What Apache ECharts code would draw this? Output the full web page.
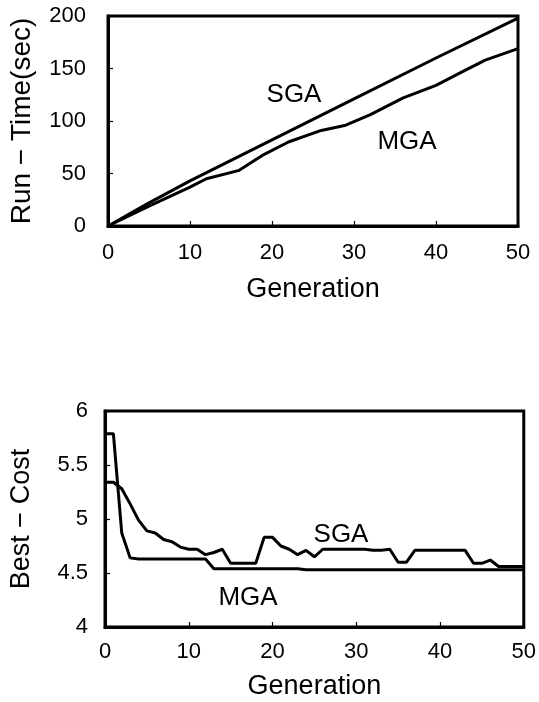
<!DOCTYPE html>
<html>
<head>
<meta charset="utf-8">
<script src="https://cdn.jsdelivr.net/npm/echarts@6/dist/echarts.min.js"></script>
<style>
  html, body { margin: 0; padding: 0; background: #fff; }
  #chart { width: 539px; height: 702px; }
</style>
</head>
<body>
<div id="chart"></div>
<script>
// Run-time vs generation (top panel)
const runGen = [0, 5, 10, 20, 30, 40, 50];
const runSGA = [0, 22, 43, 82, 121, 160, 198];
const runMgaGen = [0, 5, 10, 12, 16, 19, 22, 26, 29, 32, 36, 40, 43, 46, 50];
const runMGA = [0, 19, 37, 45, 53, 68, 80, 91, 96, 106, 122, 134, 146, 158, 169];

// Best cost vs generation (bottom panel), one value per generation 0..50
const costSGA = [
  5.34, 5.34, 5.28, 5.14, 4.99, 4.89, 4.87, 4.81, 4.79, 4.74,
  4.72, 4.72, 4.67, 4.69, 4.72, 4.59, 4.59, 4.59, 4.59, 4.83,
  4.83, 4.75, 4.72, 4.67, 4.71, 4.65, 4.72, 4.72, 4.72, 4.72,
  4.72, 4.72, 4.71, 4.71, 4.72, 4.60, 4.60, 4.71, 4.71, 4.71,
  4.71, 4.71, 4.71, 4.71, 4.59, 4.59, 4.62, 4.56, 4.56, 4.56, 4.56
];
const costMGA = [
  5.79, 5.79, 4.87, 4.64, 4.63, 4.63, 4.63, 4.63, 4.63, 4.63,
  4.63, 4.63, 4.63, 4.54, 4.54, 4.54, 4.54, 4.54, 4.54, 4.54,
  4.54, 4.54, 4.54, 4.54, 4.53, 4.53, 4.53, 4.53, 4.53, 4.53,
  4.53, 4.53, 4.53, 4.53, 4.53, 4.53, 4.53, 4.53, 4.53, 4.53,
  4.53, 4.53, 4.53, 4.53, 4.53, 4.53, 4.53, 4.53, 4.53, 4.53, 4.53
];

const FONT = "'Liberation Sans', Arial, sans-serif";
const INK = '#000';

const pairs = (xs, ys) => xs.map((x, i) => [x, ys[i]]);
const costPairs = (ys) => ys.map((y, i) => [i, y]);

const chart = echarts.init(document.getElementById('chart'), null, { renderer: 'canvas' });

const axisBase = {
  axisLine: { show: true, lineStyle: { color: INK, width: 3 } },
  axisTick: { show: true, inside: true, length: 5, lineStyle: { color: INK, width: 1.2 } },
  splitLine: { show: false },
  axisLabel: { color: INK, fontSize: 22, fontFamily: FONT },
  nameLocation: 'middle',
  nameTextStyle: { color: INK, fontSize: 27, fontFamily: FONT },
};

const lineBase = {
  type: 'line',
  symbol: 'none',
  smooth: false,
  lineStyle: { color: INK, width: 3 },
  z: 3,
};

chart.setOption({
  backgroundColor: '#fff',
  animation: false,
  grid: [
    { left: 105, right: 21, top: 16, height: 210, show: true, borderColor: INK, borderWidth: 3 },
    { left: 103, right: 13, top: 411, height: 216, show: true, borderColor: INK, borderWidth: 3 },
  ],
  xAxis: [
    Object.assign({}, axisBase, {
      gridIndex: 0, type: 'value', min: 0, max: 50, interval: 10,
      name: 'Generation', nameGap: 50,
      axisLabel: Object.assign({}, axisBase.axisLabel, { margin: 16 }),
    }),
    Object.assign({}, axisBase, {
      gridIndex: 1, type: 'value', min: 0, max: 50, interval: 10,
      name: 'Generation', nameGap: 46,
      axisLabel: Object.assign({}, axisBase.axisLabel, { margin: 14 }),
    }),
  ],
  yAxis: [
    Object.assign({}, axisBase, {
      gridIndex: 0, type: 'value', min: 0, max: 200, interval: 50,
      name: 'Run \u2212 Time(sec)', nameGap: 72,
      nameTextStyle: Object.assign({}, axisBase.nameTextStyle, { fontSize: 28 }),
      axisLabel: Object.assign({}, axisBase.axisLabel, { margin: 22 }),
    }),
    Object.assign({}, axisBase, {
      gridIndex: 1, type: 'value', min: 4, max: 6, interval: 0.5,
      name: 'Best \u2212 Cost', nameGap: 70,
      axisLabel: Object.assign({}, axisBase.axisLabel, { margin: 17 }),
    }),
  ],
  series: [
    Object.assign({}, lineBase, { name: 'SGA', xAxisIndex: 0, yAxisIndex: 0, data: pairs(runGen, runSGA) }),
    Object.assign({}, lineBase, { name: 'MGA', xAxisIndex: 0, yAxisIndex: 0, data: pairs(runMgaGen, runMGA) }),
    Object.assign({}, lineBase, { name: 'SGA', xAxisIndex: 1, yAxisIndex: 1, data: costPairs(costSGA) }),
    Object.assign({}, lineBase, { name: 'MGA', xAxisIndex: 1, yAxisIndex: 1, data: costPairs(costMGA) }),
  ],
  graphic: [
    { type: 'text', x: 294, y: 95, style: { text: 'SGA', fill: INK, font: '26px ' + FONT, align: 'center', verticalAlign: 'middle' } },
    { type: 'text', x: 407, y: 142, style: { text: 'MGA', fill: INK, font: '26px ' + FONT, align: 'center', verticalAlign: 'middle' } },
    { type: 'text', x: 341, y: 535, style: { text: 'SGA', fill: INK, font: '26px ' + FONT, align: 'center', verticalAlign: 'middle' } },
    { type: 'text', x: 248, y: 598, style: { text: 'MGA', fill: INK, font: '26px ' + FONT, align: 'center', verticalAlign: 'middle' } },
  ],
});

window.addEventListener('resize', () => chart.resize());
</script>
</body>
</html>
